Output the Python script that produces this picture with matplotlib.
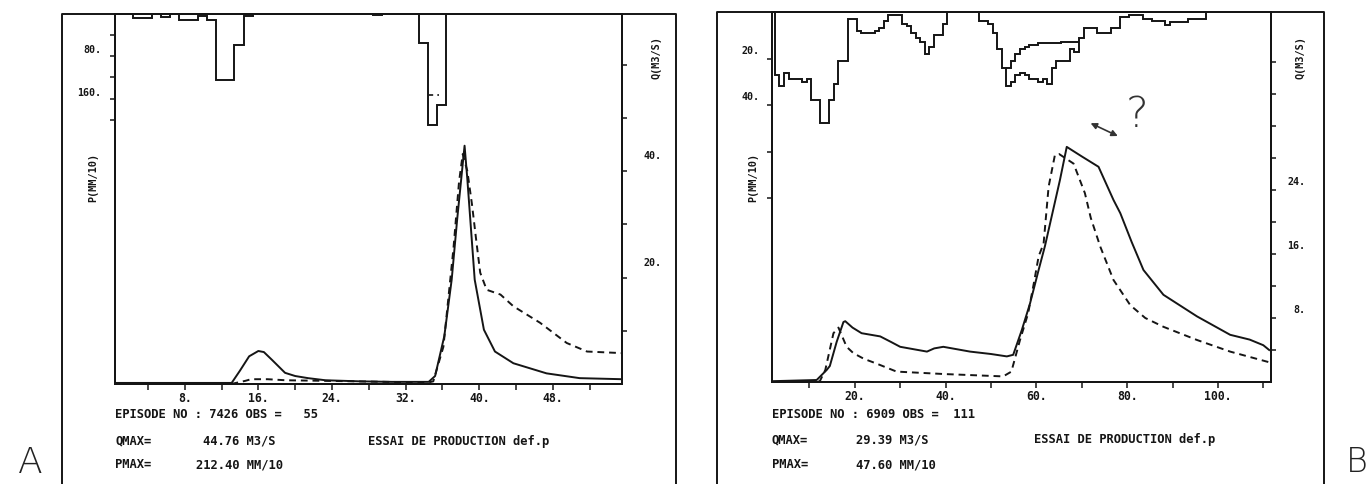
import matplotlib
matplotlib.use("Agg")
import matplotlib.pyplot as plt
from matplotlib.lines import Line2D
from matplotlib.transforms import blended_transform_factory, offset_copy
import numpy as np

W, H = 1371, 484
INK = "#151515"
MONO = "DejaVu Sans Mono"

# ---------------- episode A (7426, 55 obs)
a_rain = [0, 0, 8, 8, 0, 5, 0, 11, 11, 3, 11, 125, 125, 59, 4] + [0] * 13 + \
         [1, 0, 0, 0, 0, 54, 210, 173] + [0] * 19
a_rain_start = 0.4
a_net = [153]
a_net_edges = [34.5, 35.6]
a_obs_t = [0.4, 13.1, 14.0, 15.0, 16.0, 16.6, 17.5, 18.9, 20.0, 21.4, 23.3, 27.0, 30.5,
           34.5, 35.2, 36.2, 37.0, 37.6, 38.4, 38.7, 39.5, 40.5, 41.7, 43.7, 47.3, 50.9, 55.5]
a_obs_q = [0.2, 0.2, 2.5, 5.2, 6.2, 6.0, 4.5, 2.1, 1.5, 1.1, 0.7, 0.5, 0.4,
           0.4, 1.5, 9.0, 19.6, 31.0, 44.76, 38.5, 19.6, 10.2, 6.1, 3.9, 2.0, 1.1, 0.9]
a_sim_t = [0.4, 13.3, 14.6, 15.2, 17.0, 19.0, 23.0, 30.0, 34.5, 35.0, 36.1, 37.2, 37.8,
           38.2, 38.7, 39.2, 39.7, 40.1, 40.8, 42.3, 43.7, 46.6, 49.5, 51.7, 55.5]
a_sim_q = [0.1, 0.1, 0.6, 0.9, 0.9, 0.7, 0.6, 0.4, 0.3, 0.5, 7.0, 25.6, 38.0,
           43.2, 40.0, 33.8, 26.5, 20.9, 17.7, 16.8, 14.6, 11.5, 7.7, 6.1, 5.8]
a_xmajor = [8, 16, 24, 32, 40, 48]
a_xminor = [4, 12, 20, 28, 36, 44, 52]
a_pmajor = [80, 160]
a_pminor = [40, 120, 200]
a_qmajor = [20, 40]
a_qminor = [10, 30, 50, 60]

# ---------------- episode B (6909, 111 obs)
b_rain = [0, 27, 32, 26, 29, 29, 29, 30, 29, 38, 38, 47.7, 47.7, 38, 31, 21, 21, 3, 3,
          8, 9, 9, 9, 8, 7, 4, 1.5, 1.5, 1.5, 5, 6, 9, 11, 13, 18, 15, 10, 10, 5,
          0, 0, 0, 0, 0, 0, 0, 4, 4, 5, 9, 16, 24, 32, 30, 27, 26, 27, 29, 29, 30,
          29, 31, 24, 21, 21, 21, 16, 17, 11, 7, 7, 7, 9, 9, 9, 7, 7, 2, 2,
          1.5, 1.5, 1.5, 3, 3, 4, 4, 4, 5.6, 4.4, 4.4, 4.4, 4.4, 3, 3, 3, 3] + [0] * 14
b_rain_start = 1.4
b_rain2 = [24, 21, 18, 16, 15, 14, 14, 13.5, 13.5, 13.5, 13.5, 13.5, 13, 13, 13, 13]
b_rain2_start = 53.4
b_obs_t = [1.7, 11.6, 13.8, 14.5, 16.0, 17.5, 17.9, 19.5, 21.5, 25.6, 28.0, 30.0, 35.9,
           37.5, 39.5, 45.4, 50.0, 53.5, 54.9, 56.8, 58.6, 60.5, 61.9, 63.5, 65.2, 66.7,
           70.0, 73.7, 77.0, 78.5, 81.0, 83.6, 88.0, 95.4, 102.7, 107.0, 110.0, 111.3]
b_obs_q = [0.1, 0.25, 1.5, 2.0, 5.0, 7.5, 7.6, 6.8, 6.1, 5.7, 5.0, 4.4, 3.8,
           4.2, 4.4, 3.8, 3.5, 3.2, 3.4, 6.5, 9.8, 14.0, 17.0, 21.0, 25.25, 29.39,
           28.2, 26.9, 22.75, 21.1, 17.5, 14.0, 10.9, 8.2, 5.9, 5.3, 4.6, 4.0]
b_sim_t = [1.7, 12.3, 13.5, 15.3, 16.4, 18.2, 19.7, 22.0, 24.8, 29.2, 39.5, 52.7, 54.5,
           56.4, 58.2, 59.5, 60.5, 61.6, 62.7, 64.1, 65.0, 68.2, 70.7, 72.0, 74.1, 77.0,
           80.7, 84.0, 88.0, 95.4, 102.7, 111.1]
b_sim_q = [0.0, 0.1, 1.5, 6.1, 6.8, 4.4, 3.6, 2.9, 2.3, 1.3, 1.0, 0.7, 1.3,
           5.25, 8.6, 12.5, 15.7, 17.3, 24.4, 28.4, 28.5, 27.3, 23.6, 20.5, 16.9, 12.75,
           9.6, 8.0, 6.9, 5.25, 3.8, 2.5]
b_xmajor = [20, 40, 60, 80, 100]
b_xminor = [10, 30, 50, 70, 90, 110]
b_pmajor = [20, 40]
b_pminor = [60, 80]
b_qmajor = [8, 16, 24]
b_qminor = [4, 12, 20, 28, 32, 36, 40]


def frect(l, t, r, b):
    return [l / W, 1 - b / H, (r - l) / W, (b - t) / H]


def ftext(fig, x, y, s, **kw):
    kw.setdefault("family", MONO)
    kw.setdefault("weight", "bold")
    kw.setdefault("fontsize", 8.7)
    kw.setdefault("color", INK)
    return fig.text(x / W, 1 - y / H, s, va="center", **kw)


fig = plt.figure(figsize=(W / 100, H / 100), dpi=100)


def panel(box, outer, xlim, plim, qlim, rain, rain_start, obs_t, obs_q, sim_t, sim_q,
          xmaj, xmin, pmaj, pmin, qmaj, qmin, plab_x, qlab_x, plab_dy, qlab_dy,
          pname_xy, qname_xy):
    l, t, r, b = box
    ax = fig.add_axes(frect(l, t, r, b))
    ax2 = ax.twinx()
    for a in (ax, ax2):
        a.patch.set_visible(False)
        for s in a.spines.values():
            s.set_linewidth(1.4)
            s.set_color(INK)
    ax.set_xlim(*xlim)
    ax.set_ylim(plim, 0)
    ax2.set_ylim(0, qlim)

    edges = rain_start + np.arange(len(rain) + 1)
    ax.stairs(rain, edges, baseline=0, color=INK, lw=1.4)

    ax2.plot(obs_t, obs_q, color=INK, lw=1.4)
    ax2.plot(sim_t, sim_q, color=INK, lw=1.4, ls=(0, (3.5, 2.5)))

    ax.set_xticks(xmaj)
    ax.set_xticks(xmin, minor=True)
    ax.set_xticklabels([f"{v}." for v in xmaj], family=MONO, weight="bold", fontsize=8.3,
                       color=INK)
    ax.tick_params(axis="x", which="both", direction="out", length=4.5, width=1.1,
                   pad=1.5, color=INK)

    ax.set_yticks(pmaj)
    ax.set_yticks(pmin, minor=True)
    ax.tick_params(axis="y", which="both", direction="out", length=3.5, width=1.1,
                   labelleft=False, color=INK)
    ax2.set_yticks(qmaj)
    ax2.set_yticks(qmin, minor=True)
    ax2.tick_params(axis="y", which="both", direction="out", length=3.5, width=1.1,
                    labelright=False, color=INK)

    tp = offset_copy(blended_transform_factory(fig.transFigure, ax.transData),
                     fig=fig, x=0, y=plab_dy, units="dots")
    for v in pmaj:
        ax.text(plab_x / W, v, f"{v}.", transform=tp, ha="right", va="center",
                family=MONO, weight="bold", fontsize=7.2, color=INK)
    tq = offset_copy(blended_transform_factory(fig.transFigure, ax2.transData),
                     fig=fig, x=0, y=qlab_dy, units="dots")
    for v in qmaj:
        ax2.text(qlab_x / W, v, f"{v}.", transform=tq, ha="right", va="center",
                 family=MONO, weight="bold", fontsize=7.2, color=INK)

    ftext(fig, pname_xy[0], pname_xy[1], "P(MM/10)", rotation=90, ha="center",
          fontsize=7.4)
    ftext(fig, qname_xy[0], qname_xy[1], "Q(M3/S)", rotation=90, ha="center",
          fontsize=7.4)

    ol, ot, orr = outer
    fig.add_artist(Line2D([ol / W, ol / W, orr / W, orr / W], [0, 1 - ot / H, 1 - ot / H, 0],
                          transform=fig.transFigure, color=INK, lw=1.4))
    return ax, ax2


axA, axA2 = panel((115, 14, 622, 384), (62, 14, 676), (0.43, 55.5), 700, 69.5,
                  a_rain, a_rain_start, a_obs_t, a_obs_q, a_sim_t, a_sim_q,
                  a_xmajor, a_xminor, a_pmajor, a_pminor, a_qmajor, a_qminor,
                  101, 662, 6, 15, (93, 178), (657, 58))
axA.stairs(a_net, a_net_edges, baseline=None, color=INK, lw=1.2, ls=(0, (2.5, 2.5)))

axB, axB2 = panel((772, 12, 1271, 382), (717, 12, 1324), (1.76, 111.7), 159, 46.25,
                  b_rain, b_rain_start, b_obs_t, b_obs_q, b_sim_t, b_sim_q,
                  b_xmajor, b_xminor, b_pmajor, b_pminor, b_qmajor, b_qminor,
                  760, 1305, 8, 8, (753, 177), (1301, 58))
b2_edges = b_rain2_start + np.arange(len(b_rain2) + 1)
axB.stairs(b_rain2, b2_edges, baseline=None, color=INK, lw=1.4)

# hand-written marks on the scan
axB2.annotate("", xy=(71.4, 32.5), xytext=(78.5, 30.6),
              arrowprops=dict(arrowstyle="<|-|>", color="#333333", lw=1.2,
                              mutation_scale=9))
axB2.text(82.2, 33.4, "?", ha="center", va="center", fontsize=31, color="#333333",
          family="DejaVu Sans", weight="light")
fig.text(30 / W, 1 - 463 / H, "A", ha="center", va="center", fontsize=26,
         color="#222222", family="DejaVu Sans", weight="light")
fig.text(1368 / W, 1 - 463 / H, "B", ha="right", va="center", fontsize=24,
         color="#222222", family="DejaVu Sans", weight="light")

# footer text of each sheet
ftext(fig, 115, 415, "EPISODE NO : 7426 OBS =   55")
ftext(fig, 115, 441, "QMAX=")
ftext(fig, 203, 441, "44.76 M3/S")
ftext(fig, 368, 441, "ESSAI DE PRODUCTION def.p")
ftext(fig, 115, 465, "PMAX=")
ftext(fig, 196, 465, "212.40 MM/10")

ftext(fig, 772, 414, "EPISODE NO : 6909 OBS =  111")
ftext(fig, 772, 440, "QMAX=")
ftext(fig, 856, 440, "29.39 M3/S")
ftext(fig, 1034, 440, "ESSAI DE PRODUCTION def.p")
ftext(fig, 772, 465, "PMAX=")
ftext(fig, 856, 465, "47.60 MM/10")

fig.savefig("out.png", dpi=100)
